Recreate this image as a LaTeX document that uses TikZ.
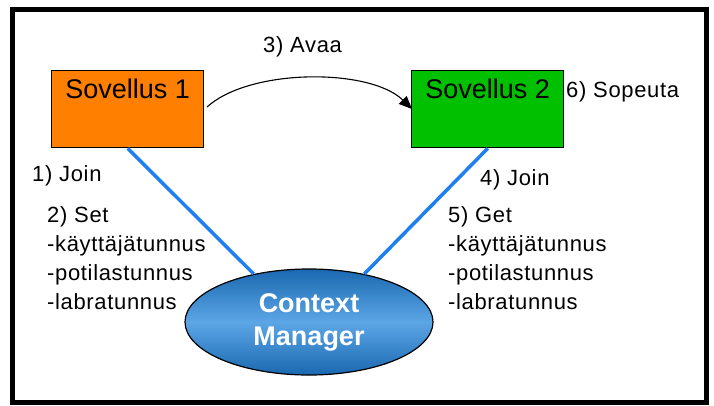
\documentclass[tikz,border=0pt]{standalone}
\usepackage{fontspec}
\setmainfont{Liberation Sans}
\newfontfamily\lblfont{Liberation Sans}[LetterSpace=3]
\usetikzlibrary{arrows.meta,shapes.geometric}

\definecolor{appone}{RGB}{255,128,0}
\definecolor{apptwo}{RGB}{0,192,0}
\definecolor{linkblue}{RGB}{30,128,240}
\definecolor{cmdark}{RGB}{26,104,176}
\definecolor{cmlight}{RGB}{92,166,230}

\tikzset{
  appbox/.style={draw=black, line width=1.4pt, minimum width=152pt,
    minimum height=77pt, anchor=north west, inner sep=0pt},
  apptitle/.style={font=\fontsize{27}{30}\selectfont, anchor=north, inner sep=0pt},
  steplabel/.style={font=\lblfont\fontsize{22}{29}\selectfont, anchor=north west,
    inner sep=0pt, align=left},
  link/.style={draw=linkblue, line width=3.5pt},
  cmnode/.style={ellipse, draw=black, line width=1.2pt, minimum width=248pt,
    minimum height=106pt, inner sep=0pt, top color=cmdark, bottom color=cmdark,
    middle color=cmlight, text=white, align=center,
    font=\bfseries\fontsize{27}{33}\selectfont}
}

\begin{document}
\begin{tikzpicture}[x=1pt, y=-1pt]
  \useasboundingbox (0,0) rectangle (714,405);
  % outer frame
  \draw[line width=5pt] (12.5,9.5) rectangle (706.5,402.5);

  % applications
  \node[appbox, fill=appone] (s1) at (51,70) {};
  \node[apptitle] (s1t) at ([yshift=-9pt]s1.north) {Sovellus 1};
  \node[appbox, fill=apptwo] (s2) at (411,70) {};
  \node[apptitle] (s2t) at ([yshift=-9pt]s2.north) {Sovellus 2};

  % context manager
  \node[cmnode] (cm) at (309,322) {Context\\Manager};

  % links to the context manager
  \draw[link] (s1.south) -- (cm.139);
  \draw[link] (s2.south) -- (cm.41);

  % launch arrow
  \coordinate (a0) at (207,107);
  \coordinate (a1) at (412,109);
  \draw[line width=1.1pt, -{Triangle[length=13pt,width=11pt]}]
    (a0) .. controls (250,68) and (370,68) .. (a1);

  % step labels
  \node[steplabel] (l3) at (263,36) {3) Avaa};
  \node[steplabel] (l6) at (566,81) {6) Sopeuta};
  \node[steplabel] (l1) at (32,165) {1) Join};
  \node[steplabel] (l2) at (47,206) {2) Set\\-käyttäjätunnus\\-potilastunnus\\-labratunnus};
  \node[steplabel] (l4) at (480,169) {4) Join};
  \node[steplabel] (l5) at (448,206) {5) Get\\-käyttäjätunnus\\-potilastunnus\\-labratunnus};
\end{tikzpicture}
\end{document}
